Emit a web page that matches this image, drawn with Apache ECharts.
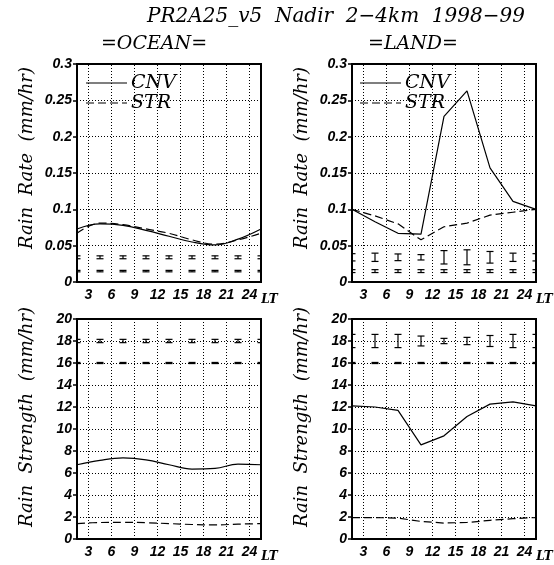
<!DOCTYPE html>
<html>
<head>
<meta charset="utf-8">
<script src="https://cdn.jsdelivr.net/npm/echarts@6/dist/echarts.min.js"></script>
<style>
html,body{margin:0;padding:0;background:#fff;}
#chart{width:554px;height:565px;}
</style>
</head>
<body>
<div id="chart"></div>
<script>
// ---- data ----
const hours = [1.5, 4.5, 7.5, 10.5, 13.5, 16.5, 19.5, 22.5, 25.5];
const hourTicks = [3, 6, 9, 12, 15, 18, 21, 24];

const oceanRateCNV = [0.073, 0.080, 0.078, 0.071, 0.063, 0.055, 0.051, 0.059, 0.073];
const oceanRateSTR = [0.067, 0.081, 0.079, 0.073, 0.067, 0.058, 0.052, 0.058, 0.067];
const landRateCNV  = [0.100, 0.083, 0.067, 0.066, 0.228, 0.263, 0.157, 0.111, 0.100];
const landRateSTR  = [0.100, 0.091, 0.080, 0.058, 0.076, 0.081, 0.092, 0.096, 0.100];

const oceanStrCNV = [6.75, 7.15, 7.37, 7.20, 6.75, 6.36, 6.42, 6.80, 6.75];
const oceanStrSTR = [1.40, 1.50, 1.52, 1.48, 1.40, 1.32, 1.28, 1.35, 1.40];
const landStrCNV  = [12.10, 12.00, 11.70, 8.56, 9.38, 11.14, 12.26, 12.47, 12.10];
const landStrSTR  = [1.95, 1.95, 1.90, 1.60, 1.45, 1.50, 1.70, 1.85, 1.95];

// sampling error bars: row centre and half-lengths
const rateErrRowCNV = 0.034, rateErrRowSTR = 0.015;
const strErrRowCNV = 18, strErrRowSTR = 16;
const oceanRateErrCNV = [0.002, 0.002, 0.002, 0.002, 0.002, 0.002, 0.002, 0.002, 0.002];
const oceanRateErrSTR = [0.001, 0.001, 0.001, 0.001, 0.001, 0.001, 0.001, 0.001, 0.001];
const landRateErrCNV  = [0.005, 0.0057, 0.0046, 0.0037, 0.0092, 0.0103, 0.008, 0.0057, 0.005];
const landRateErrSTR  = [0.002, 0.002, 0.002, 0.002, 0.002, 0.002, 0.002, 0.002, 0.002];
const oceanStrErrCNV  = [0.15, 0.15, 0.15, 0.15, 0.15, 0.15, 0.15, 0.15, 0.15];
const oceanStrErrSTR  = [0.05, 0.05, 0.05, 0.05, 0.05, 0.05, 0.05, 0.05, 0.05];
const landStrErrCNV   = [0.6, 0.6, 0.6, 0.45, 0.24, 0.33, 0.5, 0.6, 0.6];
const landStrErrSTR   = [0.05, 0.05, 0.05, 0.05, 0.05, 0.05, 0.05, 0.05, 0.05];

const titleText = 'PR2A25_v5  Nadir  2\u22124km  1998\u221299';
const oceanText = '=OCEAN=';
const landText = '=LAND=';
const rateName = 'Rain  Rate  (mm/hr)';
const strName = 'Rain  Strength  (mm/hr)';
const legendNames = ['CNV', 'STR'];

// ---- helpers ----
const serif = 'DejaVu Serif';
const sans = 'Liberation Sans';
const dotted = [1, 2];

function pairs(ys) { return hours.map((h, i) => [h, ys[i]]); }
function errData(row, halves) { return hours.map((h, i) => [h, row, halves[i]]); }

function errSeries(idx, row, halves) {
  return {
    type: 'custom', xAxisIndex: idx, yAxisIndex: idx, clip: true, silent: true,
    data: errData(row, halves),
    renderItem: function (params, api) {
      const x = api.value(0), c = api.value(1), h = api.value(2);
      const top = api.coord([x, c + h]);
      const bot = api.coord([x, c - h]);
      const cw = 3.5;
      const st = { stroke: '#000', lineWidth: 1.2 };
      return {
        type: 'group',
        children: [
          { type: 'line', shape: { x1: top[0], y1: top[1], x2: bot[0], y2: bot[1] }, style: st },
          { type: 'line', shape: { x1: top[0] - cw, y1: top[1], x2: top[0] + cw, y2: top[1] }, style: st },
          { type: 'line', shape: { x1: bot[0] - cw, y1: bot[1], x2: bot[0] + cw, y2: bot[1] }, style: st }
        ]
      };
    }
  };
}

function lineSeries(idx, ys, dashed, smooth, withGrid) {
  const s = {
    type: 'line', xAxisIndex: idx, yAxisIndex: idx, data: pairs(ys),
    showSymbol: false, symbol: 'none', smooth: smooth, silent: true, clip: true,
    lineStyle: { color: '#000', width: 1.2, type: dashed ? [8, 4] : 'solid' }
  };
  if (withGrid) {
    s.markLine = {
      silent: true, symbol: 'none', label: { show: false },
      lineStyle: { color: '#000', width: 1, type: dotted },
      data: hourTicks.map(h => ({ xAxis: h }))
    };
  }
  return s;
}

const grids = [
  { left: 77, top: 64, width: 184, height: 218 },
  { left: 352, top: 64, width: 184, height: 218 },
  { left: 77, top: 319, width: 184, height: 220 },
  { left: 352, top: 319, width: 184, height: 220 }
].map(g => Object.assign(g, { show: true, borderColor: '#000', borderWidth: 2, backgroundColor: 'transparent' }));

const xAxes = [0, 1, 2, 3].map(i => ({
  gridIndex: i, type: 'value', min: 1.5, max: 25.5, interval: 1.5,
  axisLine: { show: false }, axisTick: { show: false }, splitLine: { show: false },
  axisLabel: {
    margin: 6, color: '#000', fontFamily: sans, fontWeight: 'bold', fontStyle: 'italic', fontSize: 14,
    showMinLabel: true, showMaxLabel: true,
    formatter: v => (hourTicks.indexOf(v) >= 0 ? String(v) : '')
  },
  name: 'LT', nameLocation: 'end', nameGap: -4,
  nameTextStyle: { color: '#000', fontFamily: serif, fontStyle: 'italic', fontWeight: 'bold', fontSize: 12,
    align: 'left', verticalAlign: 'top', padding: [12, 0, 0, 0] }
}));

const yAxes = [0, 1, 2, 3].map(i => {
  const top = i < 2;
  return {
    gridIndex: i, type: 'value', min: 0, max: top ? 0.3 : 20, interval: top ? 0.05 : 2,
    axisLine: { show: false },
    axisTick: { show: true, inside: false, length: 4, lineStyle: { color: '#000', width: 1.5 } },
    splitLine: { show: true, lineStyle: { color: '#000', width: 1, type: dotted } },
    axisLabel: { margin: 5, color: '#000', fontFamily: sans, fontWeight: 'bold', fontStyle: 'italic', fontSize: 14 },
    name: top ? rateName : strName, nameLocation: 'middle', nameRotate: 90, nameGap: 41,
    nameTextStyle: { color: '#000', fontFamily: serif, fontStyle: 'italic', fontSize: 18,
      padding: top ? [0, 0, 0, 30] : [0, 0, 0, 24] }
  };
});

const series = [
  lineSeries(0, oceanRateCNV, false, 0.4, true),
  lineSeries(0, oceanRateSTR, true, 0.4, false),
  errSeries(0, rateErrRowCNV, oceanRateErrCNV),
  errSeries(0, rateErrRowSTR, oceanRateErrSTR),

  lineSeries(1, landRateCNV, false, false, true),
  lineSeries(1, landRateSTR, true, false, false),
  errSeries(1, rateErrRowCNV, landRateErrCNV),
  errSeries(1, rateErrRowSTR, landRateErrSTR),

  lineSeries(2, oceanStrCNV, false, 0.4, true),
  lineSeries(2, oceanStrSTR, true, 0.4, false),
  errSeries(2, strErrRowCNV, oceanStrErrCNV),
  errSeries(2, strErrRowSTR, oceanStrErrSTR),

  lineSeries(3, landStrCNV, false, false, true),
  lineSeries(3, landStrSTR, true, false, false),
  errSeries(3, strErrRowCNV, landStrErrCNV),
  errSeries(3, strErrRowSTR, landStrErrSTR)
];

function legendGraphics(x0, y0) {
  const tStyle = { fill: '#000', font: 'italic 19px "DejaVu Serif"', textVerticalAlign: 'middle', textAlign: 'left' };
  return [
    { type: 'line', shape: { x1: x0, y1: y0, x2: x0 + 41, y2: y0 }, style: { stroke: '#000', lineWidth: 1.2 } },
    { type: 'line', shape: { x1: x0, y1: y0 + 20, x2: x0 + 41, y2: y0 + 20 }, style: { stroke: '#000', lineWidth: 1.2, lineDash: [8, 4] } },
    { type: 'text', x: x0 + 45, y: y0, style: Object.assign({ text: legendNames[0] }, tStyle) },
    { type: 'text', x: x0 + 45, y: y0 + 20, style: Object.assign({ text: legendNames[1] }, tStyle) }
  ];
}

const headStyle = { fill: '#000', textAlign: 'center', textVerticalAlign: 'middle' };
const graphic = [
  { type: 'text', x: 336, y: 17, style: Object.assign({ text: titleText, font: 'italic 20px "DejaVu Serif"' }, headStyle) },
  { type: 'text', x: 154, y: 44, style: Object.assign({ text: oceanText, font: 'italic 19px "DejaVu Serif"' }, headStyle) },
  { type: 'text', x: 413, y: 44, style: Object.assign({ text: landText, font: 'italic 19px "DejaVu Serif"' }, headStyle) }
].concat(legendGraphics(86, 83), legendGraphics(360, 83));

const chart = echarts.init(document.getElementById('chart'), null, { renderer: 'canvas' });
chart.setOption({
  animation: false,
  backgroundColor: '#fff',
  grid: grids,
  xAxis: xAxes,
  yAxis: yAxes,
  series: series,
  graphic: graphic
});
</script>
</body>
</html>
